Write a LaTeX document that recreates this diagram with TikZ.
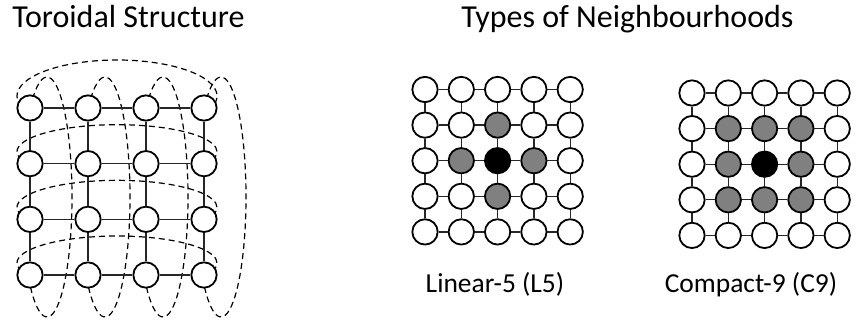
\documentclass[tikz,border=0pt]{standalone}
\usepackage{fontspec}
\setmainfont{Carlito}
\usepackage{tikz}
\usetikzlibrary{calc,backgrounds}
\definecolor{cellgray}{gray}{0.5}
\tikzset{
  cell/.style={circle,draw=black,line width=1.35pt,fill=white,
    minimum size=19pt,inner sep=0pt},
  link/.style={draw=black!85,line width=1pt},
  wrap/.style={draw=black,line width=0.9pt,dash pattern=on 4.5pt off 3pt},
  heading/.style={font=\fontsize{24}{28}\selectfont,inner sep=0pt},
  caption/.style={font=\fontsize{20.6}{24}\selectfont,inner sep=0pt}
}
\begin{document}
\begin{tikzpicture}[x=0.75pt,y=0.75pt]
  \useasboundingbox (0,0) rectangle (856,-320);
  % titles
  \node[heading,anchor=base west] (ttor) at (12,-28) {Toroidal Structure};
  \node[heading,anchor=base west] (tnb) at (461,-28) {Types of Neighbourhoods};
  % toroidal grid
  \foreach \r in {1,...,4}{
    \foreach \c in {1,...,4}{
      \node[cell] (t-\r-\c) at ({30+58*(\c-1)},{-(108+55.67*(\r-1))}) {};
    }
  }
  \foreach \r in {1,...,4}{
    \foreach \c/\n in {1/2,2/3,3/4}{
      \draw[link] (t-\r-\c) -- (t-\r-\n);
      \draw[link] (t-\c-\r) -- (t-\n-\r);
    }
  }
  \begin{pgfonlayer}{background}
    \draw[wrap] ($(t-1-1)!0.5!(t-1-4)+(0,12)$) ++(198:100 and 36)
      arc[start angle=198,end angle=-18,x radius=100,y radius=36];
    \foreach \r in {2,3,4}{
      \draw[wrap] ($(t-\r-1)!0.5!(t-\r-4)+(0,12)$) ++(198:100 and 27)
        arc[start angle=198,end angle=-18,x radius=100,y radius=27];
    }
    \foreach \c in {1,...,4}{
      \draw[wrap] ($(t-1-\c)!0.5!(t-4-\c)+(17,-5.5)$) ++(125:25 and 120)
        arc[start angle=125,end angle=-132,x radius=25,y radius=120];
    }
  \end{pgfonlayer}
  % linear-5 neighbourhood
  \foreach \r in {1,...,5}{
    \foreach \c in {1,...,5}{
      \pgfmathtruncatemacro{\d}{abs(\r-3)+abs(\c-3)}
      \ifcase\d \def\shade{black}\or \def\shade{cellgray}\else \def\shade{white}\fi
      \node[cell,fill=\shade] (l-\r-\c) at ({425+36.3*(\c-1)},{-(89.5+35.6*(\r-1))}) {};
    }
  }
  % compact-9 neighbourhood
  \foreach \r in {1,...,5}{
    \foreach \c in {1,...,5}{
      \pgfmathtruncatemacro{\d}{max(abs(\r-3),abs(\c-3))}
      \ifcase\d \def\shade{black}\or \def\shade{cellgray}\else \def\shade{white}\fi
      \node[cell,fill=\shade] (k-\r-\c) at ({692+36.3*(\c-1)},{-(93+35.6*(\r-1))}) {};
    }
  }
  \foreach \r in {1,...,5}{
    \foreach \c/\n in {1/2,2/3,3/4,4/5}{
      \draw[link] (l-\r-\c) -- (l-\r-\n);
      \draw[link] (l-\c-\r) -- (l-\n-\r);
      \draw[link] (k-\r-\c) -- (k-\r-\n);
      \draw[link] (k-\c-\r) -- (k-\n-\r);
    }
  }
  \node[caption,anchor=base] (cl5) at (495,-292) {Linear-5 (L5)};
  \node[caption,anchor=base] (cc9) at (751,-292) {Compact-9 (C9)};
\end{tikzpicture}
\end{document}
